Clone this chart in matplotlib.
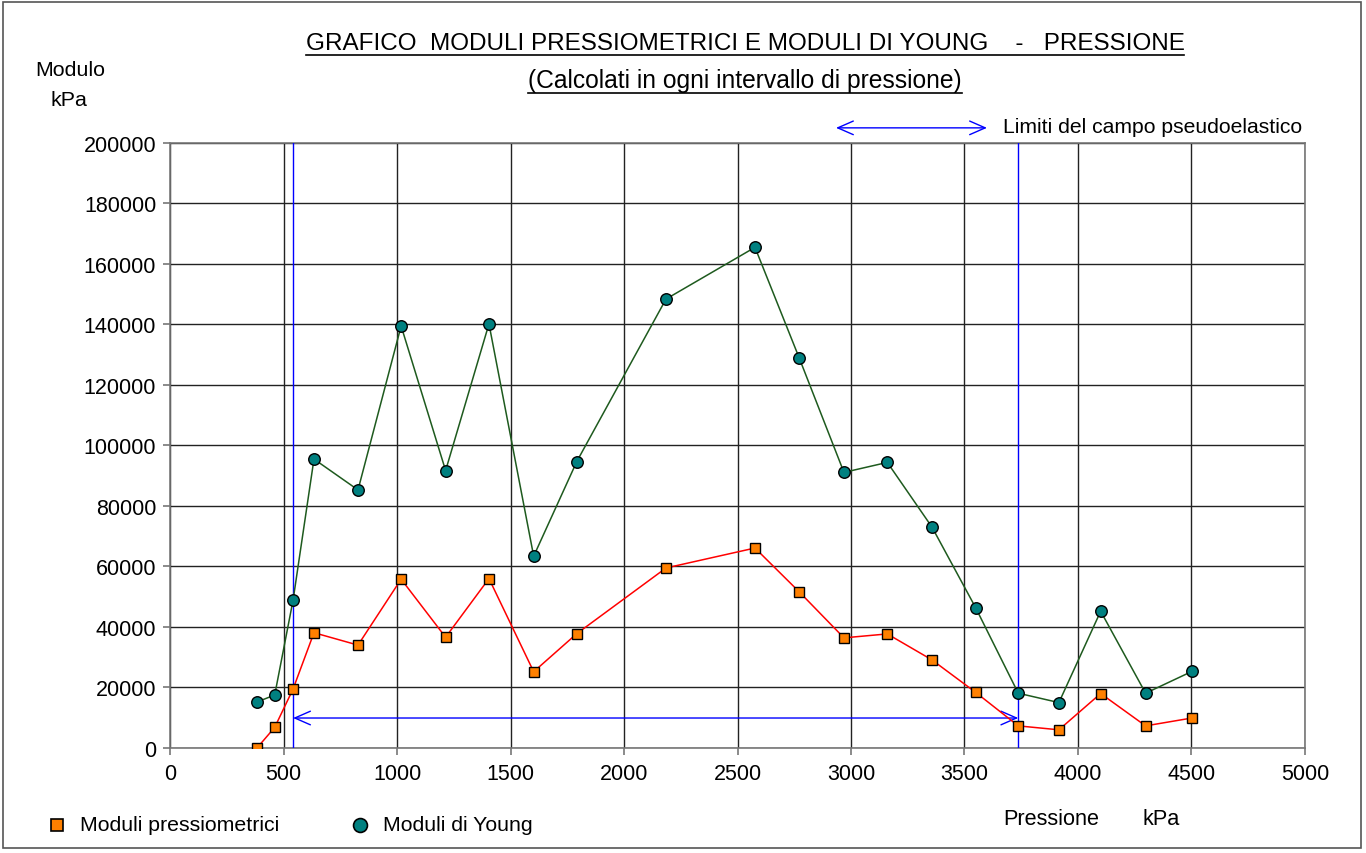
import matplotlib.pyplot as plt
from matplotlib.lines import Line2D
from matplotlib.patches import Rectangle

plt.rcParams['font.family'] = ['Liberation Sans', 'DejaVu Sans']

# pressione (kPa) per ogni intervallo
pressione = [383, 461, 542, 634, 828, 1018, 1214, 1405, 1602, 1792, 2185,
             2577, 2772, 2969, 3160, 3357, 3549, 3737, 3916, 4100, 4298, 4502]
# moduli pressiometrici (kPa)
mod_press = [0, 6800, 19500, 38100, 34000, 55800, 36600, 56000, 25200, 37800,
             59500, 66100, 51600, 36400, 37700, 29100, 18400, 7300, 6000,
             18000, 7300, 9900]
# moduli di Young (kPa)
mod_young = [15200, 17500, 48900, 95500, 85300, 139500, 91700, 140200, 63400,
             94700, 148400, 165500, 128900, 91100, 94400, 73000, 46400, 18100,
             15000, 45200, 18100, 25300]

# limiti del campo pseudoelastico
lim_inf = 542
lim_sup = 3737
y_freccia = 9900

fig = plt.figure(figsize=(13.66, 8.54), dpi=100)
ax = fig.add_axes([0.1245, 0.1230, 0.8308, 0.7084])

ax.plot(pressione, mod_press, color='red', lw=1.1, marker='s', ms=7,
        mfc='#ff8000', mec='black', mew=1, zorder=4)
ax.plot(pressione, mod_young, color='#1e5a1e', lw=1.1, marker='o', ms=8.3,
        mfc='#008080', mec='black', mew=1, zorder=4)

ax.axvline(lim_inf, color='blue', lw=1, zorder=3)
ax.axvline(lim_sup, color='blue', lw=1, zorder=3)

ax.annotate('', xy=(lim_inf, y_freccia), xytext=(lim_sup, y_freccia),
            arrowprops=dict(arrowstyle='<->,head_length=0.8,head_width=0.35',
                            color='blue', lw=1, shrinkA=0, shrinkB=0,
                            mutation_scale=14), zorder=3)
ax.annotate('', xy=(2934, 205000), xytext=(3599, 205000),
            arrowprops=dict(arrowstyle='<->,head_length=0.8,head_width=0.35',
                            color='blue', lw=1, shrinkA=0, shrinkB=0,
                            mutation_scale=14), annotation_clip=False)
ax.text(3670, 205300, 'Limiti del campo pseudoelastico', fontsize=15.2,
        va='center', ha='left', clip_on=False)

ax.set_xlim(0, 5000)
ax.set_ylim(0, 200000)
ax.set_xticks(range(0, 5001, 500))
ax.set_yticks(range(0, 200001, 20000))
ax.grid(True, color='#222222', lw=1)
ax.tick_params(labelsize=15.5, color='#777777', length=5, width=1.2, pad=5)
ax.tick_params(axis='x', pad=6)
for s in ax.spines.values():
    s.set_color('#777777')
    s.set_linewidth(1.2)

# titoli
t1 = fig.text(745 / 1366, 1 - 44 / 854,
              'GRAFICO  MODULI PRESSIOMETRICI E MODULI DI YOUNG    -   PRESSIONE',
              fontsize=17.5, ha='center', va='center')
t2 = fig.text(745 / 1366, 1 - 81 / 854,
              '(Calcolati in ogni intervallo di pressione)',
              fontsize=17.7, ha='center', va='center')

fig.text(35 / 1366, 1 - 70 / 854, 'Modulo', fontsize=15.4, va='center')
fig.text(50 / 1366, 1 - 101 / 854, 'kPa', fontsize=15.4, va='center')
fig.text(1003 / 1366, 1 - 820 / 854, 'Pressione', fontsize=15.6, va='center')
fig.text(1142 / 1366, 1 - 820 / 854, 'kPa', fontsize=15.6, va='center')

# legenda in basso
fig.add_artist(Line2D([57 / 1366], [1 - 826 / 854], ls='none', marker='s',
                      ms=9, mfc='#ff8000', mec='black', mew=1.2))
fig.add_artist(Line2D([360 / 1366], [1 - 826 / 854], ls='none', marker='o',
                      ms=10, mfc='#008080', mec='black', mew=1.2))
fig.text(80 / 1366, 1 - 826 / 854, 'Moduli pressiometrici', fontsize=15.3,
         va='center')
fig.text(383 / 1366, 1 - 826 / 854, 'Moduli di Young', fontsize=15.3,
         va='center')

# bordo del grafico
fig.patches.append(Rectangle((3 / 1366, 5 / 854), 1358 / 1366, 846 / 854,
                             transform=fig.transFigure, fill=False,
                             edgecolor='#555555', lw=1.2))

# sottolineatura dei titoli
r = fig.canvas.get_renderer()
for t in (t1, t2):
    bb = t.get_window_extent(r)
    yl = bb.y0 - 1
    fig.add_artist(Line2D([bb.x0, bb.x1], [yl, yl], transform=None,
                          color='black', lw=1.2))

fig.savefig('out.png', dpi=100)
